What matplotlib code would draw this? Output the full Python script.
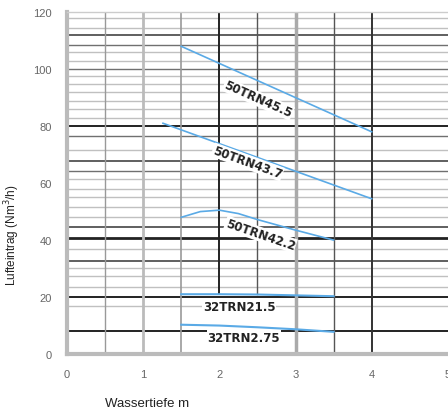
import matplotlib
matplotlib.use("Agg")
import matplotlib.pyplot as plt
import numpy as np

plt.rcParams['font.family'] = ['Liberation Sans', 'DejaVu Sans']

# Curve data (Wassertiefe m -> Lufteintrag Nm3/h)
x_45_5 = [1.5, 4.0]
y_45_5 = [108, 78]
x_43_7 = [1.26, 4.0]
y_43_7 = [81, 54.5]
x_42_2 = [1.5, 1.75, 2.0, 2.25, 2.5, 3.0, 3.5]
y_42_2 = [48, 50.0, 50.5, 49.3, 47.2, 43.5, 40]
x_21_5 = [1.5, 2.0, 2.5, 3.0, 3.5]
y_21_5 = [21.0, 21.0, 20.9, 20.6, 20.3]
x_2_75 = [1.5, 2.0, 2.5, 3.0, 3.5]
y_2_75 = [10.3, 10.0, 9.4, 8.7, 7.8]

labels = ["50TRN45.5", "50TRN43.7", "50TRN42.2", "32TRN21.5", "32TRN2.75"]

x_ticks = [0, 1, 2, 3, 4, 5]
y_ticks = [0, 20, 40, 60, 80, 100, 120]

h_black = [80, 20, 8]
h_black_thick = [40.7]
h_dark = [112, 67.7, 44.6, 32.6]
h_medium = [108.4, 100, 76.5, 64.2]
h_light = [118, 114.4, 106, 102.8, 97.5, 94.7, 92, 88.8, 86, 83, 71.6,
           61.4, 57.9, 55, 51.6, 48, 37, 30.2, 27.4, 23.5, 16.8]

fig = plt.figure(figsize=(4.48, 4.10), dpi=100)
ax = fig.add_axes([0.1496, 0.134, 0.85, 0.834])
ax.set_xlim(0, 5)
ax.set_ylim(0, 120)

for y in h_light:
    ax.axhline(y, color='#c0c0c0', lw=1.0, zorder=1)
for y in h_medium:
    ax.axhline(y, color='#707070', lw=1.0, zorder=1)
for y in h_dark:
    ax.axhline(y, color='#444444', lw=1.2, zorder=1)
for y in h_black:
    ax.axhline(y, color='#222222', lw=1.4, zorder=1)
for y in h_black_thick:
    ax.axhline(y, color='#222222', lw=2.0, zorder=1)

# vertical grid
ax.axvline(0.5, color='#999999', lw=1.0, zorder=1)
ax.axvline(1.0, color='#bbbbbb', lw=2.0, zorder=1)
ax.axvline(1.5, color='#999999', lw=1.2, zorder=1)
ax.plot([2.0, 2.0], [21, 120], color='#222222', lw=1.4, zorder=1)
ax.plot([2.5, 2.5], [21, 120], color='#555555', lw=1.0, zorder=1)
ax.axvline(3.0, color='#aaaaaa', lw=2.5, zorder=1)
ax.axvline(3.5, color='#555555', lw=1.0, zorder=1)
ax.axvline(4.0, color='#333333', lw=1.4, zorder=1)

blue = '#5aaae6'
ax.plot(x_45_5, y_45_5, color=blue, lw=1.2, zorder=3)
ax.plot(x_43_7, y_43_7, color=blue, lw=1.2, zorder=3)
ax.plot(x_42_2, y_42_2, color=blue, lw=1.2, zorder=3)
ax.plot(x_21_5, y_21_5, color=blue, lw=1.5, zorder=3)
ax.plot(x_2_75, y_2_75, color=blue, lw=1.5, zorder=3)

bbox = dict(facecolor='white', edgecolor='none', pad=0.5)
tkw = dict(fontsize=8.5, fontweight='bold', color='#222222', ha='center', va='center',
           bbox=bbox, zorder=4, rotation_mode='anchor', family='DejaVu Sans')
ax.text(2.51, 89.5, labels[0], rotation=-24, **tkw)
ax.text(2.37, 67.4, labels[1], rotation=-20, **tkw)
ax.text(2.54, 42.0, labels[2], rotation=-19, **tkw)
ax.text(2.26, 16.6, labels[3], rotation=0, **tkw)
ax.text(2.32, 5.8, labels[4], rotation=0, **tkw)

ax.set_xticks(x_ticks)
ax.set_yticks(y_ticks)
ax.tick_params(length=0, labelsize=8, labelcolor='#666666', pad=11)

for s in ['right']:
    ax.spines[s].set_visible(False)
ax.spines['top'].set_color('#cccccc')
ax.spines['top'].set_linewidth(1.0)
ax.spines['left'].set_color('#bbbbbb')
ax.spines['left'].set_linewidth(3)
ax.spines['bottom'].set_color('#bbbbbb')
ax.spines['bottom'].set_linewidth(3)

ax.set_ylabel('Lufteintrag (Nm$^3$/h)', fontsize=8.5, color='#222222')
ax.yaxis.set_label_coords(-0.117, 0.35)
ax.set_xlabel('Wassertiefe m', fontsize=9.5, color='#222222')
ax.xaxis.set_label_coords(0.21, -0.125)

fig.savefig('out.png', dpi=100)
